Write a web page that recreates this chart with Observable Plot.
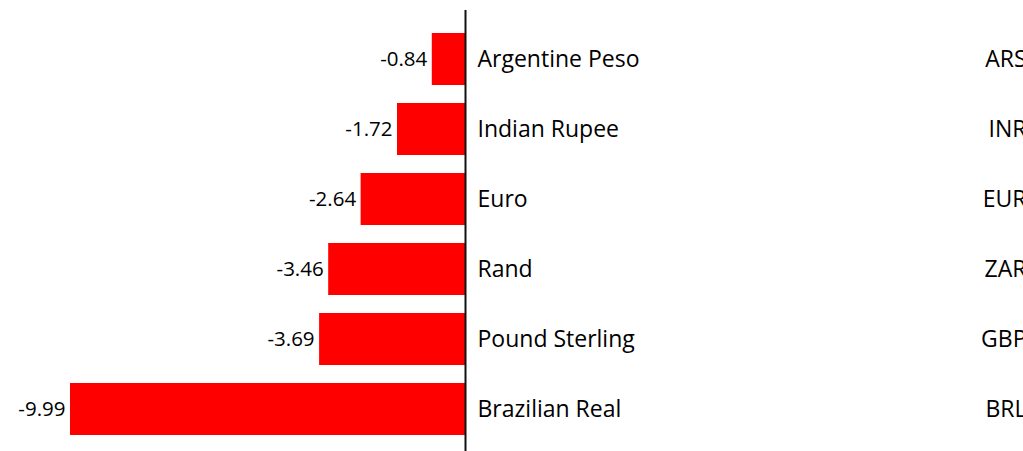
<!DOCTYPE html>
<html>
<head>
<meta charset="utf-8">
<script src="https://cdn.jsdelivr.net/npm/d3@7"></script>
<script src="https://cdn.jsdelivr.net/npm/@observablehq/plot@0.6"></script>
<style>
  html, body { margin: 0; padding: 0; background: #fff; overflow: hidden; }
</style>
</head>
<body>
<div id="chart"></div>
<script>
const currencies = ["Argentine Peso", "Indian Rupee", "Euro", "Rand", "Pound Sterling", "Brazilian Real"];
const codes = ["ARS", "INR", "EUR", "ZAR", "GBP", "BRL"];
const changes = [-0.84, -1.72, -2.64, -3.46, -3.69, -9.99];

const data = currencies.map((c, i) => ({currency: c, code: codes[i], value: changes[i]}));
const font = "'Open Sans', sans-serif";

const chart = Plot.plot({
  width: 1023,
  height: 451,
  marginTop: 10,
  marginBottom: 0,
  marginLeft: 0,
  marginRight: 0,
  style: {fontFamily: font, background: "#fff"},
  x: {domain: [-9.99, 0], range: [70, 465], axis: null},
  y: {domain: currencies, range: [24, 444], paddingInner: 0.257, paddingOuter: 0.1285, axis: null},
  marks: [
    Plot.barX(data, {x1: 0, x2: "value", y: "currency", fill: "#ff0000"}),
    Plot.ruleX([0], {stroke: "#111", strokeWidth: 2}),
    Plot.text(data, {x: "value", y: "currency", text: d => d.value.toFixed(2), textAnchor: "end", dx: -5, fontSize: 20.5, fill: "#000"}),
    Plot.text(data, {x: 0, y: "currency", text: "currency", textAnchor: "start", dx: 12, fontSize: 23, fill: "#000"}),
    Plot.text(data, {frameAnchor: "right", y: "currency", text: "code", textAnchor: "end", dx: 3, fontSize: 23, fill: "#000"})
  ]
});
document.getElementById("chart").appendChild(chart);
</script>
</body>
</html>
